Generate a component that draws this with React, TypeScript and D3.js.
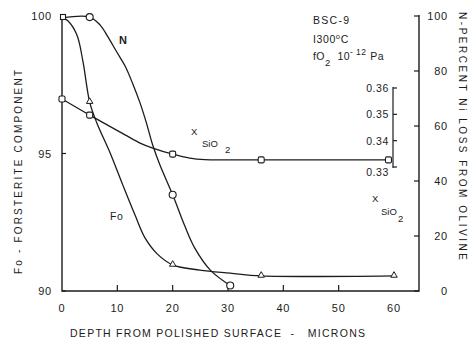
import React from "react";
import * as d3 from "d3";

// Axis tick values
const DEPTH_TICKS = [0, 10, 20, 30, 40, 50, 60];
const FO_TICKS = [90, 95, 100];
const N_TICKS = [0, 20, 40, 60, 80, 100];
const SIO2_TICKS = [0.33, 0.34, 0.35, 0.36];

// Fo – forsterite component (left axis), traced curve vs depth (microns)
const FO_DEPTH = [0, 1.1, 2.7, 3.8, 5, 6.3, 8.7, 11.0, 13.2, 15.0, 17.2, 20, 24.9, 30.4, 36, 60];
const FO_VALUE = [99.95, 99.82, 99.31, 98.33, 96.87, 96.11, 95.02, 93.85, 92.76, 91.93, 91.35, 90.95, 90.76, 90.65, 90.55, 90.55];
const FO_MARK_DEPTH = [5, 20, 36, 60];
const FO_MARK_VALUE = [96.87, 90.95, 90.55, 90.55];

// N – percent Ni loss from olivine (right axis)
const N_DEPTH = [0, 5, 6.9, 8.3, 9.9, 11.4, 12.8, 14.1, 15.2, 16.45, 17.7, 20, 22.2, 24.0, 26.8, 30.4];
const N_VALUE = [99.3, 99.6, 96.7, 92.4, 86.9, 81.8, 75.3, 68.4, 61.5, 52.7, 45.8, 35, 23.6, 15.6, 7.6, 2];
const N_MARK_DEPTH = [5, 20, 30.4];
const N_MARK_VALUE = [99.6, 35, 2];

// X SiO2 (inner axis)
const SIO2_DEPTH = [0, 5, 11.4, 14.1, 16.4, 20, 23.1, 25.8, 29.8, 36, 59];
const SIO2_VALUE = [0.3558, 0.3497, 0.3422, 0.3391, 0.3372, 0.3349, 0.3334, 0.3328, 0.3327, 0.3327, 0.3327];
const SIO2_MARK_DEPTH = [0, 5, 20, 36, 59];
const SIO2_MARK_VALUE = [0.3558, 0.3497, 0.3349, 0.3327, 0.3327];

// Surface point shared by the curves
const SURFACE_DEPTH = 0;
const SURFACE_FO = 100;

const INK = "#1c1c1c";
const FONT = "'Liberation Sans', Arial, Helvetica, sans-serif";

export default function App() {
  const W = 471;
  const H = 340;
  const left = 62;
  const right = 419;
  const bottom = 291;
  const top = 15;

  const x = d3.scaleLinear().domain([0, 60]).range([left, 394]);
  const yFo = d3.scaleLinear().domain([90, 100]).range([bottom, 16]);
  const yN = d3.scaleLinear().domain([0, 100]).range([bottom, 16]);
  const ySi = d3.scaleLinear().domain([0.33, 0.36]).range([167, 88]);

  const curve = d3.curveCatmullRom.alpha(0.5);
  const foLine = d3
    .line<number>()
    .x((_, i) => x(FO_DEPTH[i]))
    .y((v) => yFo(v))
    .curve(curve);
  const nLine = d3
    .line<number>()
    .x((_, i) => x(N_DEPTH[i]))
    .y((v) => yN(v))
    .curve(curve);
  const siLine = d3
    .line<number>()
    .x((_, i) => x(SIO2_DEPTH[i]))
    .y((v) => ySi(v))
    .curve(curve);

  const innerX = 393;
  const lineStyle = { fill: "none", stroke: INK, strokeWidth: 1.3 };
  const tri = d3.symbol().type(d3.symbolTriangle).size(18)();
  const tickFont = { fontSize: 11, letterSpacing: 0.8, fill: INK };

  return (
    <svg
      width={W}
      height={H}
      style={{ position: "absolute", left: 0, top: 0, background: "#fff" }}
      fontFamily={FONT}
    >
      {/* frame: left axis, bottom axis, right axis */}
      <path
        d={`M${left},${top}V${bottom}H${right}V${top}`}
        fill="none"
        stroke={INK}
        strokeWidth={1.4}
      />
      {/* bottom ticks */}
      {DEPTH_TICKS.filter((d) => d > 0 && d < 60).map((d) => (
        <line key={d} x1={x(d)} x2={x(d)} y1={bottom} y2={bottom - 6} stroke={INK} strokeWidth={1.2} />
      ))}
      {DEPTH_TICKS.map((d) => (
        <text key={d} x={x(d)} y={312} textAnchor="middle" style={tickFont}>
          {d}
        </text>
      ))}
      {/* left ticks */}
      {FO_TICKS.map((d) => (
        <g key={d}>
          <line x1={left} x2={left + 4} y1={yFo(d)} y2={yFo(d)} stroke={INK} strokeWidth={1.2} />
          <text x={52} y={yFo(d) + 4} textAnchor="end" style={tickFont}>
            {d}
          </text>
        </g>
      ))}
      {/* right ticks */}
      {N_TICKS.map((d) => (
        <g key={d}>
          <line x1={right} x2={right - 5} y1={yN(d)} y2={yN(d)} stroke={INK} strokeWidth={1.2} />
          <text x={448} y={yN(d) + 4} textAnchor="end" style={tickFont}>
            {d}
          </text>
        </g>
      ))}
      {/* inner X SiO2 axis */}
      <line x1={innerX} x2={innerX} y1={ySi(0.36) - 1} y2={ySi(0.33) + 1} stroke={INK} strokeWidth={1.2} />
      {SIO2_TICKS.map((d, i) => (
        <g key={d}>
          <line x1={innerX} x2={innerX + 4} y1={ySi(d)} y2={ySi(d)} stroke={INK} strokeWidth={1.2} />
          <text
            x={389}
            y={ySi(d) + (i === 0 ? 9 : 4)}
            textAnchor="end"
            style={{ fontSize: 10.5, letterSpacing: 0.6, fill: INK }}
          >
            {d.toFixed(2)}
          </text>
        </g>
      ))}

      {/* curves */}
      <path d={foLine(FO_VALUE) || ""} style={lineStyle} />
      <path d={nLine(N_VALUE) || ""} style={lineStyle} />
      <path d={siLine(SIO2_VALUE) || ""} style={lineStyle} />

      {/* markers */}
      <rect
        x={x(SURFACE_DEPTH) - 1.5}
        y={yFo(SURFACE_FO) - 1.5}
        width={5}
        height={5}
        fill="#fff"
        stroke={INK}
        strokeWidth={1.1}
      />
      {SIO2_MARK_DEPTH.map((d, i) => (
        <rect
          key={d}
          x={x(d) - 3}
          y={ySi(SIO2_MARK_VALUE[i]) - 3}
          width={6}
          height={6}
          rx={1.5}
          fill="#fff"
          stroke={INK}
          strokeWidth={1.1}
        />
      ))}
      {N_MARK_DEPTH.map((d, i) => (
        <circle key={d} cx={x(d)} cy={yN(N_MARK_VALUE[i])} r={3.5} fill="#fff" stroke={INK} strokeWidth={1.1} />
      ))}
      {FO_MARK_DEPTH.map((d, i) => (
        <path
          key={d}
          d={tri || ""}
          transform={`translate(${x(d)},${yFo(FO_MARK_VALUE[i]) - 0.5})`}
          fill="#fff"
          stroke={INK}
          strokeWidth={1}
        />
      ))}

      {/* curve labels */}
      <text x={119} y={44} fontSize={11} fontWeight="bold" fill={INK}>
        N
      </text>
      <text x={110} y={220} fontSize={10.5} letterSpacing={0.5} fill={INK}>
        Fo
      </text>
      <text x={191} y={135} fontSize={9.5} fill={INK}>
        X
      </text>
      <text x={202} y={147} fontSize={9.5} fill={INK}>
        SiO
      </text>
      <text x={225} y={153} fontSize={9.5} fill={INK}>
        2
      </text>
      <text x={372} y={202} fontSize={9.5} fill={INK}>
        X
      </text>
      <text x={381} y={215} fontSize={9.5} fill={INK}>
        SiO
      </text>
      <text x={398} y={222} fontSize={9.5} fill={INK}>
        2
      </text>

      {/* experiment conditions */}
      <text x={313} y={24} style={{ fontSize: 10.5, letterSpacing: 1.3, fill: INK }}>
        BSC-9
      </text>
      <text x={313} y={43} style={{ fontSize: 10.5, letterSpacing: 0.6, fill: INK }}>
        I300
        <tspan fontSize={7.5} dy={-4}>
          o
        </tspan>
        <tspan dy={4}>C</tspan>
      </text>
      <text x={313} y={60} style={{ fontSize: 10.5, letterSpacing: 0.4, fill: INK }}>
        fO
        <tspan fontSize={9.5} dy={6}>
          2
        </tspan>
        <tspan dx={7} dy={-6}>
          10
        </tspan>
        <tspan fontSize={8.5} dy={-5}>
          - 12
        </tspan>
        <tspan dx={4} dy={5}>
          Pa
        </tspan>
      </text>

      {/* axis titles */}
      <text
        x={70}
        y={337}
        fontSize={10.5}
        fill={INK}
        textLength={295}
        lengthAdjust="spacing"
        style={{ whiteSpace: "pre" }}
      >
        {"DEPTH FROM POLISHED SURFACE  -   MICRONS"}
      </text>
      <text
        transform="translate(22,274) rotate(-90)"
        fontSize={10}
        fill={INK}
        textLength={204}
        lengthAdjust="spacing"
      >
        Fo - FORSTERITE COMPONENT
      </text>
      <text
        transform="translate(459,12) rotate(90)"
        fontSize={10}
        fill={INK}
        textLength={248}
        lengthAdjust="spacing"
      >
        N-PERCENT Ni LOSS FROM OLIVINE
      </text>
    </svg>
  );
}
